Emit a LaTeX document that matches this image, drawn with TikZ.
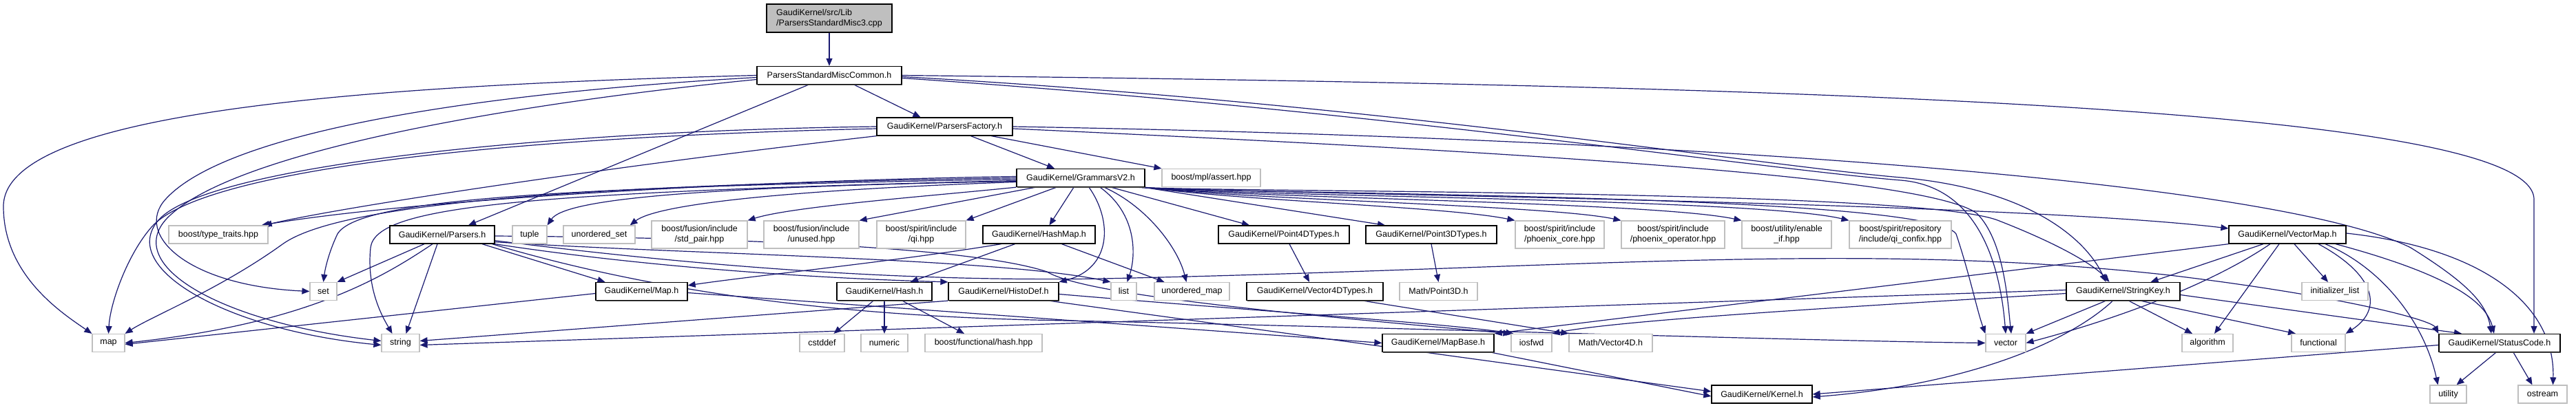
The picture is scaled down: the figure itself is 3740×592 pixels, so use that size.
\documentclass[tikz,border=0pt]{standalone}
\usepackage{fontspec}
\setmainfont{Liberation Sans}
\usetikzlibrary{arrows.meta,shadows}
\definecolor{edgeblue}{HTML}{191970}
\definecolor{extgrey}{HTML}{BFBFBF}
\definecolor{rootfill}{HTML}{BFBFBF}
\pgfdeclarelayer{bg}
\pgfdeclarelayer{edges}
\pgfsetlayers{bg,edges,main}
\tikzset{
  nd/.style={rectangle, minimum height=26pt, inner sep=0pt, fill=white, font=\fontsize{12.5pt}{15pt}\selectfont},
  doc/.style={nd, draw=black, line width=1.3pt, drop shadow={shadow xshift=0.6pt, shadow yshift=-1.2pt, fill=black!65, opacity=1}},
  ext/.style={nd, draw=extgrey, line width=1.2pt},
  e/.style={draw=edgeblue, line width=1.2pt, -{Triangle[length=11pt,width=9pt]}}
}
\begin{document}
\begin{tikzpicture}[x=1pt,y=-1pt]
\begin{pgfonlayer}{bg}
\fill[white] (0,0) rectangle (3740,592);
\end{pgfonlayer}
\useasboundingbox (0,0) rectangle (3740,592);
% row 1-4
\node[doc, fill=rootfill, minimum width=182pt, minimum height=41pt, align=left] (cpp) at (1204,26.5) {GaudiKernel/src/Lib\\/ParsersStandardMisc3.cpp};
\node[doc, minimum width=210pt] (psmc) at (1204,109.5) {ParsersStandardMiscCommon.h};
\node[doc, minimum width=197pt] (pf) at (1371.5,184) {GaudiKernel/ParsersFactory.h};
\node[doc, minimum width=186pt] (gv2) at (1569,258.5) {GaudiKernel/GrammarsV2.h};
\node[ext, minimum width=143pt] (assert) at (1758.5,258.5) {boost/mpl/assert.hpp};
% row 5
\node[ext, minimum width=144pt] (typetraits) at (317,341) {boost/type\_traits.hpp};
\node[doc, minimum width=152pt] (parsers) at (642,341) {GaudiKernel/Parsers.h};
\node[ext, minimum width=50pt] (tuple) at (769,341) {tuple};
\node[ext, minimum width=104pt] (uset) at (870,341) {unordered\_set};
\node[ext, minimum width=139pt, minimum height=40pt, align=center] (stdpair) at (1015.5,341) {boost/fusion/include\\/std\_pair.hpp};
\node[ext, minimum width=138pt, minimum height=40pt, align=center] (unused) at (1178,341) {boost/fusion/include\\/unused.hpp};
\node[ext, minimum width=129pt, minimum height=40pt, align=center] (qi) at (1337.5,341) {boost/spirit/include\\/qi.hpp};
\node[doc, minimum width=163pt] (hashmap) at (1508.5,341) {GaudiKernel/HashMap.h};
\node[doc, minimum width=190pt] (p4d) at (1864,341) {GaudiKernel/Point4DTypes.h};
\node[doc, minimum width=190pt] (p3d) at (2078,341) {GaudiKernel/Point3DTypes.h};
\node[ext, minimum width=129pt, minimum height=40pt, align=center] (phcore) at (2264.5,341) {boost/spirit/include\\/phoenix\_core.hpp};
\node[ext, minimum width=150pt, minimum height=40pt, align=center] (phop) at (2429,341) {boost/spirit/include\\/phoenix\_operator.hpp};
\node[ext, minimum width=130pt, minimum height=40pt, align=center] (enableif) at (2594,341) {boost/utility/enable\\\_if.hpp};
\node[ext, minimum width=148pt, minimum height=40pt, align=center] (confix) at (2759,341) {boost/spirit/repository\\/include/qi\_confix.hpp};
\node[doc, minimum width=170pt] (vectormap) at (3321,341) {GaudiKernel/VectorMap.h};
% row 6
\node[ext, minimum width=39pt] (set) at (469.5,423.5) {set};
\node[doc, minimum width=133pt] (maph) at (931.5,423.5) {GaudiKernel/Map.h};
\node[doc, minimum width=138pt] (hash) at (1284,423.5) {GaudiKernel/Hash.h};
\node[doc, minimum width=160pt] (histodef) at (1457,423.5) {GaudiKernel/HistoDef.h};
\node[ext, minimum width=37pt] (list) at (1631.5,423.5) {list};
\node[ext, minimum width=109pt] (umap) at (1730.5,423.5) {unordered\_map};
\node[doc, minimum width=198pt] (v4dtypes) at (1909,423.5) {GaudiKernel/Vector4DTypes.h};
\node[ext, minimum width=113pt] (point3dh) at (2088.5,423.5) {Math/Point3D.h};
\node[doc, minimum width=165pt] (stringkey) at (3082.5,423.5) {GaudiKernel/StringKey.h};
\node[ext, minimum width=96pt] (initlist) at (3390,423.5) {initializer\_list};
% row 7
\node[ext, minimum width=47pt] (map) at (157.5,498.5) {map};
\node[ext, minimum width=55pt] (string) at (581.5,498.5) {string};
\node[ext, minimum width=65pt] (cstddef) at (1193.5,498.5) {cstddef};
\node[ext, minimum width=68pt] (numeric) at (1284,498.5) {numeric};
\node[ext, minimum width=170pt] (hashhpp) at (1428,498.5) {boost/functional/hash.hpp};
\node[doc, minimum width=162pt] (mapbase) at (2088,498.5) {GaudiKernel/MapBase.h};
\node[ext, minimum width=59pt] (iosfwd) at (2223.5,498.5) {iosfwd};
\node[ext, minimum width=121pt] (vector4d) at (2338.5,498.5) {Math/Vector4D.h};
\node[ext, minimum width=58pt] (vector) at (2912,498.5) {vector};
\node[ext, minimum width=74pt] (algorithm) at (3205,498.5) {algorithm};
\node[ext, minimum width=78pt] (functional) at (3366,498.5) {functional};
\node[doc, minimum width=176pt] (statuscode) at (3629,498.5) {GaudiKernel/StatusCode.h};
% row 8
\node[doc, minimum width=146pt] (kernel) at (2558,573) {GaudiKernel/Kernel.h};
\node[ext, minimum width=53pt] (utility) at (3554.5,573) {utility};
\node[ext, minimum width=71pt] (ostream) at (3691.5,573) {ostream};

% ---- edges ----
\begin{pgfonlayer}{edges}
\draw[e] (cpp.south) -- (psmc.north);
% PSMC
\draw[e] (psmc.west) .. controls (500,125) and (5,165) .. (5,300) .. controls (5,400) and (90,455) .. (map.north west);
\draw[e] ([yshift=-3pt]psmc.west) .. controls (700,135) and (330,190) .. (240,290) .. controls (195,340) and (270,415) .. (set.west);
\draw[e] ([yshift=-6pt]psmc.west) .. controls (750,150) and (330,220) .. (240,320) .. controls (180,390) and (330,470) .. ([yshift=3pt]string.west);
\draw[e] ([xshift=-30pt]psmc.south) -- ([xshift=38pt]parsers.north);
\draw[e] ([xshift=36pt]psmc.south) -- ([xshift=-35pt]pf.north);
\draw[e] (psmc.east) .. controls (2700,125) and (3679,160) .. (3679,290) -- ([xshift=50pt]statuscode.north);
\draw[e] ([yshift=-2pt]psmc.east) .. controls (2000,150) and (2550,240) .. (2760,258) .. controls (2950,275) and (3030,350) .. ([xshift=-25pt]stringkey.north);
\draw[e] ([yshift=-4pt]psmc.east) .. controls (2000,160) and (2550,245) .. (2760,262) .. controls (2880,272) and (2905,400) .. (vector.north);
% PF
\draw[e] (pf.west) .. controls (800,190) and (300,240) .. (230,320) .. controls (170,390) and (330,480) .. ([yshift=-3pt]string.west);
\draw[e] ([yshift=-3pt]pf.west) .. controls (700,200) and (290,250) .. (220,330) .. controls (185,370) and (160,440) .. (map.north);
\draw[e] (pf.south west) .. controls (900,240) and (500,300) .. ([xshift=-6pt]typetraits.north east);
\draw[e] ([xshift=38pt]pf.south) -- ([xshift=-38pt]gv2.north);
\draw[e] ([xshift=68pt]pf.south) -- (assert.north west);
\draw[e] (pf.east) .. controls (2400,200) and (3300,260) .. (3500,360) .. controls (3580,410) and (3610,440) .. ([xshift=-12pt]statuscode.north);
\draw[e] ([yshift=-3pt]pf.east) .. controls (2300,225) and (2800,260) .. (2870,310) .. controls (2910,350) and (2915,440) .. ([xshift=8pt]vector.north);
% GrammarsV2
\draw[e] ([yshift=2pt]gv2.west) .. controls (1100,262) and (600,290) .. ([xshift=-10pt]typetraits.north east);
\draw[e] (gv2.west) .. controls (900,268) and (500,290) .. (410,355) .. controls (320,420) and (220,460) .. (map.north east);
\draw[e] ([yshift=-2pt]gv2.west) .. controls (800,272) and (520,290) .. (490,340) .. controls (478,365) and (472,390) .. (set.north);
\draw[e] ([yshift=-4pt]gv2.west) .. controls (750,280) and (545,300) .. (538,360) .. controls (532,420) and (555,460) .. ([xshift=-12pt]string.north);
\draw[e] ([yshift=-5pt]gv2.west) .. controls (1000,272) and (820,290) .. (tuple.north east);
\draw[e] ([yshift=-6pt]gv2.west) .. controls (1100,278) and (950,300) .. ([xshift=-8pt]uset.north east);
\draw[e] (gv2.south west) .. controls (1350,285) and (1150,300) .. (stdpair.north east);
\draw[e] ([xshift=-65pt]gv2.south) -- (unused.north east);
\draw[e] ([xshift=-35pt]gv2.south) -- (qi.north east);
\draw[e] ([xshift=-10pt]gv2.south) -- ([xshift=15pt]hashmap.north);
\draw[e] ([xshift=12pt]gv2.south) .. controls (1615,320) and (1615,390) .. (histodef.north east);
\draw[e] ([xshift=28pt]gv2.south) .. controls (1650,310) and (1650,370) .. ([xshift=5pt]list.north);
\draw[e] ([xshift=34pt]gv2.south) .. controls (1665,300) and (1710,360) .. ([xshift=-8pt]umap.north);
\draw[e] ([xshift=44pt]gv2.south) -- ([xshift=-50pt]p4d.north);
\draw[e] ([xshift=-3pt]gv2.south east) -- ([xshift=-67pt]p3d.north);
\draw[e] (gv2.south east) .. controls (1800,292) and (2100,300) .. (phcore.north west);
\draw[e] ([xshift=-2pt]gv2.south east) .. controls (1800,290) and (2250,298) .. (phop.north west);
\draw[e] ([xshift=-4pt]gv2.south east) .. controls (1800,288) and (2400,293) .. (enableif.north west);
\draw[e] ([xshift=-6pt]gv2.south east) .. controls (1800,286) and (2550,288) .. (confix.north west);
\draw[e] ([xshift=-8pt]gv2.south east) .. controls (1800,282) and (2900,292) .. ([yshift=9pt]vectormap.west);
\draw[e] ([xshift=-10pt]gv2.south east) .. controls (1800,280) and (2780,275) .. (2900,320) .. controls (2990,355) and (3040,385) .. ([xshift=-20pt]stringkey.north);
\draw[e] ([xshift=-12pt]gv2.south east) .. controls (1800,283) and (2800,280) .. (2840,340) .. controls (2860,400) and (2870,450) .. (vector.north west);
% Parsers
\draw[e] ([xshift=-26pt]parsers.south) -- (set.north east);
\draw[e] ([xshift=-14pt]parsers.south) .. controls (560,400) and (450,470) .. (map.east);
\draw[e] ([xshift=-7pt]parsers.south) -- ([xshift=8pt]string.north);
\draw[e] ([xshift=58pt]parsers.south) -- ([xshift=-53pt]maph.north);
\draw[e] (parsers.south east) .. controls (950,390) and (1200,405) .. (histodef.north west);
\draw[e] ([yshift=3pt]parsers.south east) .. controls (1000,370) and (1450,375) .. (list.north west);
\draw[e] ([yshift=5pt]parsers.south east) .. controls (1000,385) and (1300,410) .. (1600,405) .. controls (2300,390) and (2700,350) .. (3150,400) .. controls (3400,430) and (3530,465) .. (statuscode.north west);
\draw[e] ([yshift=-2pt]parsers.east) .. controls (1000,345) and (1400,355) .. (1520,395) .. controls (1570,425) and (1800,450) .. (iosfwd.north west);
\draw[e] ([xshift=-4pt]parsers.south east) .. controls (1000,440) and (1300,460) .. (1500,465) .. controls (2000,475) and (2600,495) .. (vector.west);
% HashMap
\draw[e] ([xshift=-55pt]hashmap.south) .. controls (1300,380) and (1100,400) .. ([yshift=-5pt]maph.north east);
\draw[e] ([xshift=-35pt]hashmap.south) -- ([xshift=38pt]hash.north);
\draw[e] ([xshift=33pt]hashmap.south) -- ([xshift=-40pt]umap.north);
% Map.h
\draw[e] ([yshift=-3pt]maph.west) -- ([yshift=-2pt]map.east);
\draw[e] ([yshift=-2pt]maph.east) -- (mapbase.west);
% Hash
\draw[e] ([xshift=-16pt]hash.south) -- ([xshift=17pt]cstddef.north);
\draw[e] (hash.south) -- (numeric.north);
\draw[e] ([xshift=26pt]hash.south) -- ([xshift=-28pt]hashhpp.north);
% HistoDef
\draw[e] (histodef.south west) -- ([yshift=3pt]string.east);
\draw[e] ([yshift=-4pt]histodef.east) .. controls (1800,450) and (2100,470) .. ([xshift=4pt]iosfwd.north west);
\draw[e] ([xshift=-15pt]histodef.south east) -- ([yshift=4pt]kernel.west);
% MapBase etc.
\draw[e] ([xshift=-5pt]mapbase.south east) -- ([yshift=-3pt]kernel.west);
\draw[e] ([xshift=8pt]p4d.south) -- ([xshift=-8pt]v4dtypes.north);
\draw[e] (p3d.south) -- (point3dh.north);
\draw[e] ([xshift=70pt]v4dtypes.south) -- (vector4d.north west);
% StringKey
\draw[e] ([yshift=2pt]stringkey.west) -- ([yshift=-3pt]string.east);
\draw[e] ([yshift=-3pt]stringkey.west) .. controls (2700,445) and (2350,465) .. (iosfwd.north east);
\draw[e] ([xshift=-25pt]stringkey.south) -- (vector.north east);
\draw[e] ([xshift=-15pt]stringkey.south) .. controls (3000,500) and (2850,560) .. ([yshift=-4pt]kernel.east);
\draw[e] ([xshift=8pt]stringkey.south) -- ([xshift=-22pt]algorithm.north);
\draw[e] ([xshift=25pt]stringkey.south) -- ([xshift=-33pt]functional.north);
\draw[e] ([yshift=-5pt]stringkey.east) -- ([xshift=-55pt]statuscode.north);
% VectorMap
\draw[e] (vectormap.south west) -- (mapbase.north east);
\draw[e] ([xshift=-35pt]vectormap.south) -- ([xshift=40pt]stringkey.north);
\draw[e] ([xshift=-25pt]vectormap.south) .. controls (3200,420) and (3050,470) .. (vector.east);
\draw[e] ([xshift=-12pt]vectormap.south) -- ([xshift=10pt]algorithm.north);
\draw[e] ([xshift=10pt]vectormap.south) -- ([xshift=-10pt]initlist.north);
\draw[e] ([xshift=45pt]vectormap.south) .. controls (3450,400) and (3460,450) .. (functional.north east);
\draw[e] ([xshift=55pt]vectormap.south) .. controls (3460,390) and (3520,470) .. ([xshift=-15pt]utility.north);
\draw[e] ([xshift=70pt]vectormap.south) .. controls (3560,400) and (3610,440) .. ([xshift=-8pt]statuscode.north);
\draw[e] ([yshift=2pt]vectormap.east) .. controls (3600,360) and (3710,440) .. ([xshift=15pt]ostream.north);
% StatusCode
\draw[e] ([xshift=-5pt]statuscode.south) -- ([xshift=12pt]utility.north);
\draw[e] ([xshift=20pt]statuscode.south) -- ([xshift=-15pt]ostream.north);
\draw[e] ([yshift=-3pt]statuscode.west) -- (kernel.east);
\end{pgfonlayer}
\end{tikzpicture}
\end{document}
